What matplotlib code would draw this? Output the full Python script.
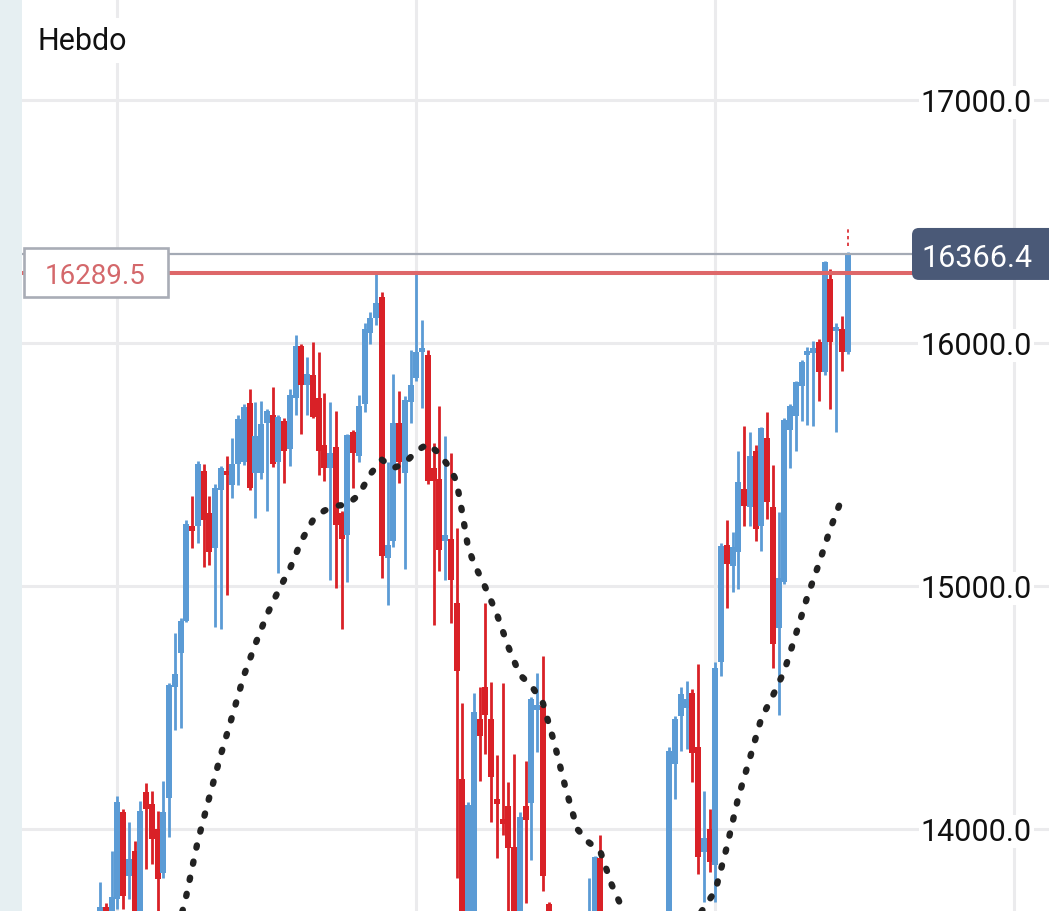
import matplotlib
matplotlib.use("Agg")
import matplotlib.pyplot as plt
import numpy as np
from matplotlib.patches import FancyBboxPatch
from matplotlib.transforms import IdentityTransform

plt.rcParams['font.family'] = ['Roboto', 'DejaVu Sans']

# candles, oldest first (weekly view)
opens = [13600, 13680, 13600, 13712, 14069, 13808, 13911, 13620, 14151, 14103,
         14000, 13819, 14126, 14585, 14726, 14858, 15246, 15246, 15475, 15299,
         15158, 15396, 15475, 15414, 15502, 15511, 15752, 15467, 15467, 15669,
         15705, 15511, 15678, 15564, 15775, 15987, 15828, 15867, 15775, 15581,
         15484, 15573, 15299, 15211, 15634, 15537, 15749, 16040, 16102, 16190,
         15114, 15184, 15669, 15467, 15758, 15855, 15961, 15952, 15484, 15440,
         15184, 15193, 14932, 14206, 13620, 13640, 14452, 14585, 14452, 14125,
         14040, 14093, 13925, 13650, 14093, 14108, 14490, 14507, 13690, 13600,
         13420, 13550, 13450, 13320, 13520, 13600, 13620, 13880, 13600, 13420,
         13260, 13400, 13200, 13080, 13300, 13400, 13280, 13460, 13580, 13620,
         14267, 14464, 14500, 14560, 14336, 13906, 14002, 13850, 14686, 15169,
         15084, 15141, 15399, 15324, 15557, 15248, 15608, 15324, 14826, 15015,
         15640, 15700, 15825, 15950, 15960, 16006, 15880, 16264, 16051, 16058,
         15962]
highs = [13781, 13695, 13911, 14137, 14082, 14028, 13952, 14117, 14189, 14158,
         14073, 14199, 14602, 14805, 14870, 15273, 15370, 15514, 15502, 15370,
         15419, 15493, 15537, 15608, 15705, 15749, 15811, 15758, 15761, 15730,
         15819, 15705, 15690, 15811, 16031, 15995, 15943, 16005, 15961, 15793,
         15758, 15722, 15310, 15625, 15643, 15784, 16084, 16128, 16296, 16208,
         15509, 15872, 15802, 15780, 15973, 16290, 16093, 15973, 15590, 15740,
         15617, 15546, 15237, 14518, 14110, 14560, 14585, 14930, 14603, 14303,
         14601, 14195, 14310, 14071, 14280, 14545, 14640, 14710, 13700, 13640,
         13600, 13620, 13560, 13580, 13640, 13800, 13890, 13975, 13650, 13500,
         13450, 13470, 13300, 13350, 13450, 13480, 13500, 13620, 13650, 14338,
         14465, 14583, 14610, 14575, 14679, 14158, 14082, 14686, 15175, 15270,
         15221, 15557, 15660, 15635, 15580, 15655, 15715, 15498, 15305, 15690,
         15750, 15845, 15930, 15985, 16010, 16015, 16339, 16305, 16084, 16113,
         16375]
lows = [13550, 13600, 13580, 13671, 13671, 13712, 13580, 13600, 13835, 13856,
        13664, 13800, 13966, 14408, 14417, 14850, 15158, 15176, 15079, 15087,
        14832, 14823, 14964, 15361, 15414, 15500, 15395, 15281, 15440, 15308,
        15490, 15052, 15423, 15493, 15705, 15625, 15705, 15690, 15458, 15431,
        15026, 14990, 14823, 15017, 15405, 15510, 15714, 15996, 16075, 15034,
        14920, 15160, 15423, 15070, 15669, 15845, 15731, 15420, 14840, 15061,
        15026, 14849, 13800, 13600, 13600, 13620, 14197, 14310, 14030, 13880,
        13975, 13620, 13600, 13620, 13695, 13873, 14318, 13746, 13560, 13350,
        13300, 13380, 13250, 13280, 13450, 13500, 13580, 13560, 13380, 13200,
        13180, 13150, 13000, 13020, 13200, 13220, 13250, 13400, 13480, 13580,
        14123, 14322, 14330, 14195, 13815, 13698, 13824, 13700, 14631, 14910,
        14974, 14988, 15248, 15248, 15187, 15145, 15276, 14661, 14470, 15010,
        15484, 15557, 15680, 15661, 15660, 15763, 15870, 15729, 15633, 15886,
        15955]
closes = [13678, 13655, 13720, 14110, 13726, 13877, 13620, 14073, 14082, 13959,
          13794, 14069, 14593, 14638, 14858, 15255, 15228, 15502, 15273, 15140,
          15405, 15484, 15458, 15502, 15687, 15735, 15405, 15617, 15666, 15722,
          15502, 15696, 15555, 15784, 15987, 15828, 15872, 15696, 15555, 15484,
          15546, 15250, 15193, 15620, 15546, 15740, 16058, 16102, 16163, 15123,
          15167, 15669, 15511, 15767, 15828, 15961, 15978, 15431, 15431, 15149,
          15211, 15026, 14650, 13620, 14100, 14480, 14382, 14470, 14215, 14103,
          14022, 13920, 13650, 14048, 14038, 14537, 14510, 13805, 13600, 13420,
          13550, 13450, 13320, 13520, 13600, 13640, 13885, 13600, 13420, 13260,
          13400, 13200, 13080, 13300, 13400, 13280, 13460, 13580, 13620, 14322,
          14453, 14555, 14535, 14313, 13885, 13961, 13863, 14661, 15166, 15091,
          15159, 15427, 15331, 15536, 15235, 15649, 15344, 14761, 15032, 15683,
          15740, 15838, 15921, 15968, 15978, 15880, 16332, 16003, 16065, 15962,
          16366.4]

# dotted moving average, read at these candle positions
ma_idx = [13, 15, 17, 19, 21, 23, 25, 27, 29, 31, 33, 35, 37, 39, 41, 43, 45,
          47, 49, 51, 53, 55, 57, 59, 61, 62, 63, 64, 65, 67, 69, 71, 73, 75,
          77, 79, 81, 83, 85, 87, 89, 91, 93, 95, 97, 99, 101, 103, 105, 107,
          109, 111, 113, 115, 117, 119, 121, 123, 125, 127, 129]
ma_val = [13535, 13725, 13950, 14130, 14305, 14465, 14630, 14760, 14880, 14980,
          15070, 15185, 15270, 15310, 15330, 15335, 15375, 15460, 15520, 15485,
          15505, 15555, 15585, 15545, 15480, 15430, 15300, 15160, 15095, 14995,
          14885, 14750, 14635, 14590, 14520, 14355, 14165, 14000, 13945, 13908,
          13770, 13664, 13580, 13510, 13470, 13480, 13530, 13600, 13675, 13745,
          13925, 14130, 14290, 14455, 14548, 14650, 14800, 14955, 15090, 15235,
          15360]

price_ticks = [14000, 15000, 16000, 17000]
time_ticks = [3, 55, 107, 159]
last_price = 16366.4
alert_price = 16289.5
pending_range = [16400, 16470]
period_label = "Hebdo"

UP = '#5b9bd5'
DOWN = '#d92127'

W, H = 1049, 912
fig = plt.figure(figsize=(W / 100, H / 100), dpi=100)
fig.patch.set_facecolor('#e6eff2')
ax = fig.add_axes([22 / W, 0, (W - 22) / W, 1])
ax.set_facecolor('white')
ax.set_xlim(-13.57, 165.04)
ax.set_ylim(13662.6, 17415.6)
for s in ax.spines.values():
    s.set_visible(False)
ax.set_xticks(time_ticks)
ax.set_yticks(price_ticks)
ax.tick_params(length=0, labelleft=False, labelbottom=False)
ax.grid(True, color='#ebebed', lw=2.2, zorder=0)

o = np.array(opens)
h = np.array(highs)
l = np.array(lows)
c = np.array(closes)
x = np.arange(len(o))
cols = np.where(c >= o, UP, DOWN)

for i in x:
    ax.vlines(i, l[i], h[i], color=cols[i], lw=2.0, zorder=2)
    bot = min(o[i], c[i])
    hgt = max(abs(c[i] - o[i]), 5)
    ax.bar(i, hgt, bottom=bot, width=1.05, color=cols[i], lw=0, zorder=2)

ax.plot(ma_idx, ma_val, color='#222222', lw=4.6, linestyle=(0, (0.35, 2.23)),
        dash_capstyle='round', zorder=3)

ax.vlines(x[-1], pending_range[0], pending_range[1], color=DOWN, lw=1.2,
          linestyles=(0, (2, 2)), zorder=3)

ax.axhline(last_price, color='#a4aab5', lw=1.6, zorder=4)
ax.axhline(alert_price, color='#de6769', lw=2.9, zorder=4)

ident = IdentityTransform()

# price labels on the right
for p in price_ticks:
    yd = ax.transData.transform((0, p))[1]
    ax.text(1032, yd - 11, f"{p:.1f}", transform=ident, ha='right',
            va='baseline', fontsize=22, color='#111111', zorder=7,
            bbox=dict(fc='white', ec='none', pad=1.5))

# current price box
yl = ax.transData.transform((0, last_price))[1]
ax.add_patch(FancyBboxPatch((912, yl - 26), 160, 52,
                            boxstyle='round,pad=0,rounding_size=7',
                            fc='#4a5977', ec='none', transform=ident,
                            clip_on=False, zorder=8))
ax.text(1032, yl - 12, f"{last_price:.1f}", transform=ident, ha='right',
        va='baseline', fontsize=22, color='white', zorder=9)

# alert box on the left
ya = ax.transData.transform((0, alert_price))[1]
ax.add_patch(FancyBboxPatch((24, ya - 24), 144, 49, boxstyle='square,pad=0',
                            fc='white', ec='#a9adb6', lw=1.9, transform=ident,
                            clip_on=False, zorder=8))
ax.text(95, ya - 10, f"{alert_price:.1f}", transform=ident, ha='center',
        va='baseline', fontsize=20, color='#d4686b', zorder=9)

ax.text(38, H - 50, period_label, transform=ident, ha='left', va='baseline',
        fontsize=22, color='#111111', zorder=7,
        bbox=dict(fc='white', ec='none', pad=6))

fig.savefig('out.png', dpi=100)
